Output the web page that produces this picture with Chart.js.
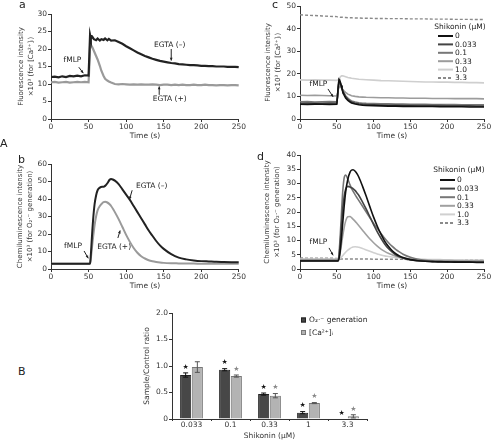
<!DOCTYPE html>
<html><head><meta charset="utf-8">
<script src="https://cdn.jsdelivr.net/npm/chart.js@4.4.1/dist/chart.umd.min.js"></script>
<style>
html,body{margin:0;padding:0;background:#fff;width:494px;height:441px;overflow:hidden;}
canvas{position:absolute;}
.lbl{position:absolute;font:11px/11px "DejaVu Sans";color:#222;z-index:5;}
</style></head><body>
<canvas id="cA" style="left:0;top:0;width:247px;height:145px" width="247" height="145"></canvas>
<canvas id="cC" style="left:247px;top:0;width:247px;height:145px" width="247" height="145"></canvas>
<canvas id="cB" style="left:0;top:145px;width:247px;height:150px" width="247" height="150"></canvas>
<canvas id="cD" style="left:247px;top:145px;width:247px;height:150px" width="247" height="150"></canvas>
<canvas id="cBar" style="left:100px;top:300px;width:300px;height:141px" width="300" height="141"></canvas>
<div class="lbl" style="left:19px;top:-1px">a</div>
<div class="lbl" style="left:272px;top:-1px">c</div>
<div class="lbl" style="left:0px;top:138px">A</div>
<div class="lbl" style="left:18px;top:154px">b</div>
<div class="lbl" style="left:257px;top:151px">d</div>
<div class="lbl" style="left:18px;top:366px">B</div>
<script>
// ---------- DATA ----------
// Panel a: [Ca2+]i fluorescence, EGTA (-) / EGTA (+)
const timeA = [0,5,10,15,20,25,30,35,40,45,50,51,52,53,55,57,60,62,65,67,70,72,75,77,80,85,90,95,100,105,110,115,120,125,130,135,140,145,150,155,160,165,170,175,180,185,190,195,200,205,210,215,220,225,230,235,240,245,250];
const caEgtaMinus = [12.0,12.1,11.9,12.2,12.0,12.3,12.2,12.4,12.2,12.5,12.4,18.0,24.0,23.0,23.5,22.8,22.5,23.0,22.4,22.8,22.6,23.0,22.5,22.9,22.4,22.5,22.0,21.5,20.8,20.2,19.6,19.0,18.5,18.0,17.6,17.2,16.9,16.6,16.4,16.2,16.0,15.9,15.7,15.6,15.5,15.4,15.4,15.3,15.2,15.2,15.1,15.1,15.0,15.0,15.0,14.9,14.9,14.9,14.8];
const caEgtaPlus  = [10.5,10.6,10.4,10.5,10.6,10.4,10.5,10.6,10.5,10.6,10.5,15.0,21.0,21.2,20.5,19.5,18.0,17.0,15.2,13.8,12.3,11.5,11.0,10.7,10.4,10.0,9.9,10.0,9.9,9.8,9.9,9.8,9.9,9.8,9.8,9.9,9.8,9.7,9.8,9.8,9.7,9.8,9.7,9.8,9.7,9.7,9.8,9.7,9.7,9.8,9.7,9.7,9.6,9.7,9.7,9.6,9.7,9.7,9.6];

// Panel b: O2- chemiluminescence, EGTA (-) / EGTA (+)
const timeB = [0,10,20,30,40,50,52,53,54,55,56,58,60,62,65,68,70,72,75,78,80,83,85,90,95,100,105,110,115,120,125,130,135,140,145,150,160,170,180,190,200,210,220,230,240,250];
const o2EgtaMinus = [3.0,3.0,3.0,3.0,3.0,3.0,3.2,8,15,22,28,37,42,45,46.5,47,47,47.5,49,51,51.5,51,50.5,48.5,45.5,42.5,39.5,36,32.5,29,25.5,22,19,16,13.5,11.5,8.5,6.5,5.5,4.9,4.5,4.3,4.1,4.0,3.9,3.8];
const o2EgtaPlus  = [3.0,3.0,3.0,3.0,3.0,3.0,3.1,6,10,14,18,25,30,33.5,36,37.5,38.2,38.4,38,37,36,34,32.5,28.5,24,19.5,15.5,12,9.3,7.3,6,5,4.4,4,3.7,3.5,3.3,3.2,3.1,3.1,3.0,3.0,3.0,3.0,3.0,3.0];

// Panel c: [Ca2+]i fluorescence by shikonin dose (uM)
const doseLabels = ['0','0.033','0.1','0.33','1.0','3.3'];
const timeC = [0,10,20,30,40,50,51,52,53,54,55,56,57,58,60,62,65,68,70,75,80,85,90,100,110,120,130,140,150,160,170,180,190,200,210,220,230,240,250];
const caDose0    = [6.5,6.4,6.6,6.5,6.4,6.5,10,15,17.5,17.0,16.0,14.8,13.5,12.3,10.5,9.3,8.2,7.5,7.1,6.6,6.3,6.1,6.0,5.9,5.8,5.7,5.7,5.6,5.6,5.5,5.5,5.5,5.4,5.4,5.4,5.4,5.3,5.3,5.3];
const caDose0033 = [7.0,7.1,6.9,7.0,7.1,7.0,10,14,16.3,16.5,15.8,14.8,13.6,12.5,11,9.8,8.7,7.9,7.5,7.0,6.7,6.5,6.4,6.3,6.2,6.1,6.1,6.0,6.0,6.0,5.9,5.9,5.9,5.8,5.8,5.8,5.8,5.7,5.7];
const caDose01   = [7.6,7.7,7.5,7.6,7.7,7.6,10,13.5,15.5,15.8,15.3,14.5,13.6,12.7,11.4,10.3,9.2,8.4,8.0,7.5,7.2,7.0,6.9,6.8,6.7,6.7,6.6,6.6,6.5,6.5,6.5,6.4,6.4,6.4,6.4,6.3,6.3,6.3,6.3];
const caDose033  = [10.5,10.4,10.5,10.4,10.3,10.2,11.5,13,14,14.3,14.2,13.9,13.5,13.1,12.4,11.8,11.0,10.6,10.3,10.0,9.8,9.7,9.6,9.5,9.4,9.4,9.3,9.3,9.2,9.2,9.2,9.1,9.1,9.1,9.0,9.0,9.0,9.0,8.9];
const caDose1    = [17.3,17.2,17.3,17.2,17.2,17.1,17.2,17.4,17.8,18.3,18.7,19.0,19.1,19.1,18.9,18.7,18.4,18.2,18.0,17.8,17.6,17.5,17.4,17.2,17.0,16.9,16.8,16.7,16.6,16.5,16.4,16.4,16.3,16.3,16.2,16.2,16.1,16.1,16.0];
const caDose33   = [46.1,45.9,45.8,45.6,45.4,45.3,45.2,45.2,45.1,45.1,45.0,45.0,45.0,45.0,44.9,44.9,44.8,44.8,44.8,44.7,44.7,44.6,44.6,44.5,44.5,44.4,44.4,44.4,44.3,44.3,44.3,44.2,44.2,44.2,44.1,44.1,44.1,44.0,44.0];

// Panel d: O2- chemiluminescence by shikonin dose (uM)
const timeD = [0,10,20,30,40,50,52,54,56,58,60,62,65,68,70,72,75,78,80,85,90,95,100,105,110,115,120,125,130,135,140,150,160,170,180,190,200,210,220,230,240,250];
const o2Dose0    = [2.8,2.8,2.8,2.8,2.8,2.8,2.9,5,10,16,22,27,31.5,34,34.7,34.8,34.3,33.2,32.2,29,25.5,21.8,18.2,15,12.2,9.8,8,6.5,5.4,4.6,4.0,3.3,2.9,2.7,2.6,2.5,2.5,2.4,2.4,2.4,2.3,2.3];
const o2Dose0033 = [2.9,2.9,2.9,2.9,2.9,2.9,3.0,7,14,21,25.5,28,29,28.8,28.5,28.2,27.5,26.5,25.8,23.5,21,18.3,15.6,13,10.8,8.8,7.2,6,5,4.3,3.8,3.2,2.9,2.7,2.6,2.6,2.5,2.5,2.5,2.4,2.4,2.4];
const o2Dose01   = [3.0,3.0,3.0,3.0,3.0,3.0,3.2,9,18,27,32,33,31.5,29.5,28.3,27.3,26,24.8,24,22,20,18,16,14.2,12.5,10.8,9.3,8,6.9,6,5.2,4.1,3.4,3.0,2.8,2.7,2.6,2.6,2.5,2.5,2.5,2.5];
const o2Dose033  = [3.3,3.3,3.3,3.3,3.3,3.3,3.4,5,8,11.5,14.5,16.8,18.3,18.4,18,17.5,16.7,15.8,15.2,13.6,12,10.5,9.2,8,7,6.2,5.5,5,4.5,4.2,3.9,3.5,3.3,3.1,3.0,3.0,3.0,2.9,2.9,2.9,2.9,2.9];
const o2Dose1    = [3.5,3.5,3.5,3.5,3.5,3.5,3.5,3.7,4.1,4.7,5.3,5.9,6.6,7.2,7.5,7.7,7.8,7.7,7.6,7.2,6.7,6.2,5.7,5.3,4.9,4.6,4.4,4.2,4.0,3.9,3.8,3.6,3.5,3.4,3.3,3.3,3.2,3.2,3.2,3.1,3.1,3.1];
const o2Dose33   = [3.9,3.8,3.8,3.8,3.8,3.7,3.6,3.5,3.5,3.5,3.5,3.5,3.5,3.5,3.5,3.5,3.5,3.5,3.5,3.5,3.5,3.5,3.4,3.4,3.4,3.4,3.4,3.4,3.4,3.4,3.4,3.3,3.3,3.3,3.3,3.3,3.2,3.2,3.2,3.2,3.2,3.2];

// Panel B: sample/control ratio
const barDoses   = ['0.033','0.1','0.33','1','3.3'];
const o2Ratio    = [0.83,0.93,0.47,0.12,0.0];
const o2RatioErr = [0.04,0.02,0.02,0.02,0.0];
const caRatio    = [0.98,0.81,0.44,0.30,0.05];
const caRatioErr = [0.10,0.02,0.04,0.01,0.03];
const o2Signif   = [true,true,true,true,true];
const caSignif   = [false,true,true,true,true];

// ---------- STYLE / HELPERS ----------
const FONT = '"DejaVu Sans"';
const AX = '#333';
const TK = 7.5;
Chart.defaults.font.family = FONT;
Chart.defaults.font.size = 7;
Chart.defaults.color = '#333';
Chart.defaults.animation = false;

const pts = (xs, ys) => xs.map((x, i) => ({x, y: ys[i]}));

function frame(L, T, R, B, W, H, pb) {
  return {
    padding: {left: 0, top: T, right: W - R, bottom: pb},
    xFit: s => { s.height = H - B - pb; },
    yFit: s => { s.width = L; }
  };
}

function lineScales(fr, ymax, ystep, ytitle, ytPad) {
  return {
    x: {type: 'linear', min: 0, max: 250, afterFit: fr.xFit,
        ticks: {stepSize: 50, padding: 1, maxRotation: 0, font: {size: TK}},
        grid: {drawOnChartArea: false, tickLength: 3, color: AX},
        border: {color: AX, width: 1},
        title: {display: true, text: 'Time (s)', font: {size: TK}, padding: {top: 0, bottom: 0}}},
    y: {min: 0, max: ymax, afterFit: fr.yFit,
        ticks: {stepSize: ystep, padding: 1, font: {size: TK}},
        grid: {drawOnChartArea: false, tickLength: 3, color: AX},
        border: {color: AX, width: 1},
        title: {display: true, text: ytitle, font: {size: 7, lineHeight: 1.43}, padding: {top: ytPad, bottom: 0}}}
  };
}

function drawArrow(ctx, x1, y1, x2, y2) {
  ctx.beginPath(); ctx.moveTo(x1, y1); ctx.lineTo(x2, y2); ctx.stroke();
  const a = Math.atan2(y2 - y1, x2 - x1), h = 3.2;
  ctx.beginPath(); ctx.moveTo(x2, y2);
  ctx.lineTo(x2 - h * Math.cos(a - 0.45), y2 - h * Math.sin(a - 0.45));
  ctx.lineTo(x2 - h * Math.cos(a + 0.45), y2 - h * Math.sin(a + 0.45));
  ctx.closePath(); ctx.fill();
}

function annot(cfg) {
  return {
    id: 'annot',
    afterDatasetsDraw(chart) {
      const ctx = chart.ctx, xs = chart.scales.x, ys = chart.scales.y;
      ctx.save();
      ctx.font = TK + 'px ' + FONT; ctx.fillStyle = '#222'; ctx.strokeStyle = '#222'; ctx.lineWidth = 1;
      ctx.textAlign = 'center'; ctx.textBaseline = 'middle';
      (cfg.texts || []).forEach(t => ctx.fillText(t.text, xs.getPixelForValue(t.x), ys.getPixelForValue(t.y)));
      (cfg.arrows || []).forEach(a => drawArrow(ctx, xs.getPixelForValue(a.x1), ys.getPixelForValue(a.y1), xs.getPixelForValue(a.x2), ys.getPixelForValue(a.y2)));
      if (cfg.legend) {
        const L = cfg.legend;
        ctx.textAlign = 'center';
        ctx.fillText(L.title, L.tx, L.ty);
        ctx.textAlign = 'left';
        chart.data.datasets.forEach((ds, i) => {
          const y = L.y0 + i * L.dy;
          ctx.strokeStyle = ds.borderColor; ctx.lineWidth = 2;
          ctx.setLineDash(ds.borderDash || []);
          ctx.beginPath(); ctx.moveTo(L.x1, y); ctx.lineTo(L.x2, y); ctx.stroke();
          ctx.setLineDash([]);
          ctx.fillStyle = '#222';
          ctx.fillText(ds.label, L.x2 + 2, y + 0.5);
        });
      }
      ctx.restore();
    }
  };
}

function lineDS(label, xs, ys, color, w, dash, tension) {
  return {label, data: pts(xs, ys), borderColor: color, backgroundColor: color, borderWidth: w,
          borderDash: dash || [], pointRadius: 0, tension: tension || 0, cubicInterpolationMode: tension ? 'monotone' : 'default'};
}

const baseOpts = (fr, scales) => ({
  responsive: false, animation: false, maintainAspectRatio: false,
  layout: {padding: fr.padding},
  plugins: {legend: {display: false}, tooltip: {enabled: false}},
  scales
});

// ---------- PANEL a ----------
const frA = frame(51, 14, 239, 119, 247, 145, 4);
new Chart(document.getElementById('cA'), {
  type: 'line',
  data: {datasets: [
    lineDS('EGTA (–)', timeA, caEgtaMinus, '#222', 2.2),
    lineDS('EGTA (+)', timeA, caEgtaPlus, '#9a9a9a', 2.2)
  ]},
  options: baseOpts(frA, lineScales(frA, 30, 5, ['Fluorescence intensity', '×10³ (for [Ca²⁺]ᵢ)'], 16.5)),
  plugins: [annot({
    texts: [{x: 28.6, y: 16.9, text: 'fMLP'}, {x: 158, y: 21.1, text: 'EGTA (–)'}, {x: 158, y: 5.7, text: 'EGTA (+)'}],
    arrows: [{x1: 37, y1: 14.8, x2: 43, y2: 13.1}, {x1: 160, y1: 20.0, x2: 160, y2: 16.7}, {x1: 144, y1: 6.9, x2: 144, y2: 9.3}]
  })]
});

// ---------- PANEL c ----------
const frC = frame(53, 6, 237, 119, 247, 145, 4);
new Chart(document.getElementById('cC'), {
  type: 'line',
  data: {datasets: [
    lineDS(doseLabels[0], timeC, caDose0, '#111', 1.6),
    lineDS(doseLabels[1], timeC, caDose0033, '#444', 1.6),
    lineDS(doseLabels[2], timeC, caDose01, '#777', 1.6),
    lineDS(doseLabels[3], timeC, caDose033, '#9c9c9c', 1.6),
    lineDS(doseLabels[4], timeC, caDose1, '#cfcfcf', 1.6),
    lineDS(doseLabels[5], timeC, caDose33, '#8a8a8a', 1.4, [3, 2])
  ]},
  options: baseOpts(frC, lineScales(frC, 50, 5, ['Fluorescence intensity', '×10³ (for [Ca²⁺]ᵢ)'], 16)),
  plugins: [annot({
    texts: [{x: 25.1, y: 15.3, text: 'fMLP'}],
    arrows: [{x1: 38, y1: 13.3, x2: 45, y2: 9.8}],
    legend: {title: 'Shikonin (μM)', tx: 213, ty: 27, x1: 191, x2: 206, y0: 36, dy: 8.4}
  })]
});

// ---------- PANEL b ----------
const frB = frame(51, 19, 239, 124, 247, 150, 4);
new Chart(document.getElementById('cB'), {
  type: 'line',
  data: {datasets: [
    lineDS('EGTA (–)', timeB, o2EgtaMinus, '#222', 2, null, 0.4),
    lineDS('EGTA (+)', timeB, o2EgtaPlus, '#9a9a9a', 2, null, 0.4)
  ]},
  options: baseOpts(frB, lineScales(frB, 60, 10, ['Chemiluminescence intensity', '×10³ (for O₂·⁻ generation)'], 15)),
  plugins: [annot({
    texts: [{x: 29.3, y: 13.1, text: 'fMLP'}, {x: 134, y: 47.4, text: 'EGTA (–)'}, {x: 84, y: 12.6, text: 'EGTA (+)'}],
    arrows: [{x1: 44, y1: 10.3, x2: 49.6, y2: 6.1}, {x1: 108, y1: 45, x2: 104.5, y2: 39.8}, {x1: 89, y1: 17.7, x2: 92, y2: 22}]
  })]
});

// ---------- PANEL d ----------
const frD = frame(53, 10, 237, 124, 247, 150, 4);
new Chart(document.getElementById('cD'), {
  type: 'line',
  data: {datasets: [
    lineDS(doseLabels[0], timeD, o2Dose0, '#111', 1.6, null, 0.4),
    lineDS(doseLabels[1], timeD, o2Dose0033, '#444', 1.6, null, 0.4),
    lineDS(doseLabels[2], timeD, o2Dose01, '#777', 1.6, null, 0.4),
    lineDS(doseLabels[3], timeD, o2Dose033, '#a0a0a0', 1.6, null, 0.4),
    lineDS(doseLabels[4], timeD, o2Dose1, '#d0d0d0', 1.6, null, 0.4),
    lineDS(doseLabels[5], timeD, o2Dose33, '#8a8a8a', 1.4, [3, 2])
  ]},
  options: baseOpts(frD, lineScales(frD, 40, 5, ['Chemiluminescence intensity', '×10³ (for O₂·⁻ generation)'], 15)),
  plugins: [annot({
    texts: [{x: 25.1, y: 9.6, text: 'fMLP'}],
    arrows: [{x1: 39.4, y1: 7.4, x2: 45, y2: 4.8}],
    legend: {title: 'Shikonin (μM)', tx: 212, ty: 25, x1: 193, x2: 208, y0: 35, dy: 8.6}
  })]
});

// ---------- PANEL B ----------
const frBar = frame(72, 13, 267, 119, 300, 141, 0);
const errPlugin = {
  id: 'err',
  afterDatasetsDraw(chart) {
    const ctx = chart.ctx, ys = chart.scales.y;
    const errs = [o2RatioErr, caRatioErr], sig = [o2Signif, caSignif];
    const ecol = ['#111', '#555'], scol = ['#111', '#888'];
    ctx.save();
    chart.data.datasets.forEach((ds, di) => {
      const meta = chart.getDatasetMeta(di);
      meta.data.forEach((el, i) => {
        const v = ds.data[i], e = errs[di][i];
        const yt = ys.getPixelForValue(v + e), yb = ys.getPixelForValue(v - e);
        ctx.strokeStyle = ecol[di]; ctx.lineWidth = 1;
        if (e > 0) {
          ctx.beginPath();
          ctx.moveTo(el.x, yt); ctx.lineTo(el.x, yb);
          ctx.moveTo(el.x - 2.5, yt); ctx.lineTo(el.x + 2.5, yt);
          ctx.moveTo(el.x - 2.5, yb); ctx.lineTo(el.x + 2.5, yb);
          ctx.stroke();
        }
        if (sig[di][i]) {
          ctx.fillStyle = scol[di]; ctx.font = '7px ' + FONT;
          ctx.textAlign = 'center'; ctx.textBaseline = 'middle';
          ctx.fillText('★', el.x, yt - 6);
        }
      });
    });
    // legend
    ctx.font = TK + 'px ' + FONT; ctx.textAlign = 'left'; ctx.textBaseline = 'middle';
    chart.data.datasets.forEach((ds, di) => {
      const y = 20 + di * 12.5;
      ctx.fillStyle = ds.backgroundColor; ctx.strokeStyle = ds.borderColor; ctx.lineWidth = 1;
      ctx.fillRect(201, y - 2.5, 5, 5); ctx.strokeRect(201.5, y - 2, 4, 4);
      ctx.fillStyle = '#222';
      ctx.fillText(ds.label, 209, y + 0.5);
    });
    ctx.restore();
  }
};
new Chart(document.getElementById('cBar'), {
  type: 'bar',
  data: {labels: barDoses, datasets: [
    {label: 'O₂·⁻ generation', data: o2Ratio, backgroundColor: '#474747', borderColor: '#222', borderWidth: 1, categoryPercentage: 0.6, barPercentage: 0.95},
    {label: '[Ca²⁺]ᵢ', data: caRatio, backgroundColor: '#b3b3b3', borderColor: '#777', borderWidth: 1, categoryPercentage: 0.6, barPercentage: 0.95}
  ]},
  options: baseOpts(frBar, {
    x: {afterFit: frBar.xFit,
        ticks: {padding: 0, maxRotation: 0, font: {size: TK}},
        grid: {drawOnChartArea: false, tickLength: 2, color: AX, offset: true},
        border: {color: AX, width: 1},
        title: {display: true, text: 'Shikonin (μM)', font: {size: TK}, padding: {top: 0, bottom: 0}}},
    y: {min: 0, max: 2, afterFit: frBar.yFit,
        ticks: {stepSize: 0.5, padding: 1, font: {size: TK}, callback: v => v === 0 ? '0' : v.toFixed(1)},
        grid: {drawOnChartArea: false, tickLength: 3, color: AX},
        border: {color: AX, width: 1},
        title: {display: true, text: 'Sample/Control ratio', font: {size: TK}, padding: {top: 43, bottom: 0}}}
  }),
  plugins: [errPlugin]
});
</script>
</body></html>
